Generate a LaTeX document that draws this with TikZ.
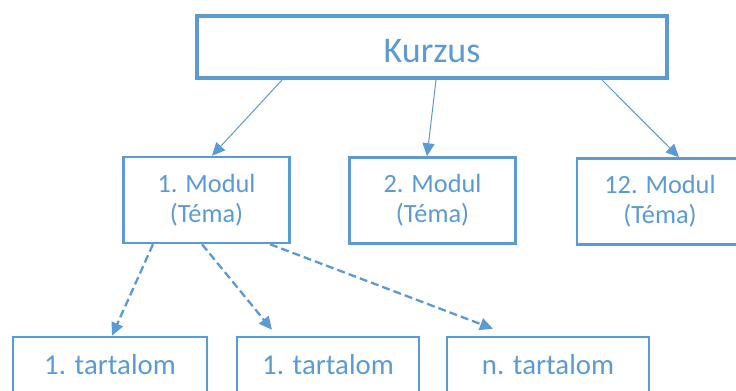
\documentclass[tikz,border=0pt]{standalone}
\usepackage{fontspec}
\setmainfont{Carlito}
\usetikzlibrary{arrows.meta}
\definecolor{ob}{HTML}{5B9BD5}
\begin{document}
\begin{tikzpicture}[x=1bp,y=-1bp,
  topbox/.style={draw=ob,line width=4bp,text=ob,minimum width=470bp,minimum height=62bp,inner sep=0pt,
     font=\fontsize{36bp}{40bp}\selectfont,text height=30bp,text depth=0pt},
  modbox/.style={draw=ob,line width=2.5bp,text=ob,minimum width=166bp,minimum height=86bp,inner sep=0pt,
     align=center,font=\fontsize{26.3bp}{30bp}\selectfont},
  contbox/.style={draw=ob,line width=2.5bp,text=ob,minimum height=80bp,inner sep=0pt,
     font=\fontsize{28.8bp}{32bp}\selectfont,text height=20bp,text depth=26bp},
  solidarr/.style={draw=ob,line width=1bp,-{Triangle[length=13bp,width=12bp]}},
  dasharr/.style={draw=ob,line width=2.3bp,dash pattern=on 8bp off 4bp,-{Triangle[length=13bp,width=12bp]}}
]
\clip (0,0) rectangle (736,390);
\fill[white] (0,0) rectangle (736,390);
\node[topbox] (kurzus) at (432,47) {Kurzus};
\node[modbox] (m1) at (206.5,200) {1. Modul\\(Téma)};
\node[modbox] (m2) at (432.5,200.5) {2. Modul\\(Téma)};
\node[modbox] (m12) at (660,201.5) {12. Modul\\(Téma)};
\node[contbox,minimum width=194bp] (t1) at (110,377) {1. tartalom};
\node[contbox,minimum width=182bp] (t2) at (328,377) {1. tartalom};
\node[contbox,minimum width=202bp] (tn) at (548,377) {n. tartalom};
\draw[solidarr] ([xshift=-150bp]kurzus.south) -- ([xshift=5.5bp]m1.north);
\draw[solidarr] ([xshift=4bp]kurzus.south) -- ([xshift=-5.5bp]m2.north);
\draw[solidarr] ([xshift=170bp]kurzus.south) -- ([xshift=19bp]m12.north);
\draw[dasharr] ([xshift=-53.5bp]m1.south) -- ([xshift=2bp]t1.north);
\draw[dasharr] ([xshift=-4.5bp]m1.south) -- ([xshift=-56bp,yshift=6bp]t2.north);
\draw[dasharr] ([xshift=63.5bp]m1.south) -- ([xshift=-55bp,yshift=7bp]tn.north);
\end{tikzpicture}
\end{document}
